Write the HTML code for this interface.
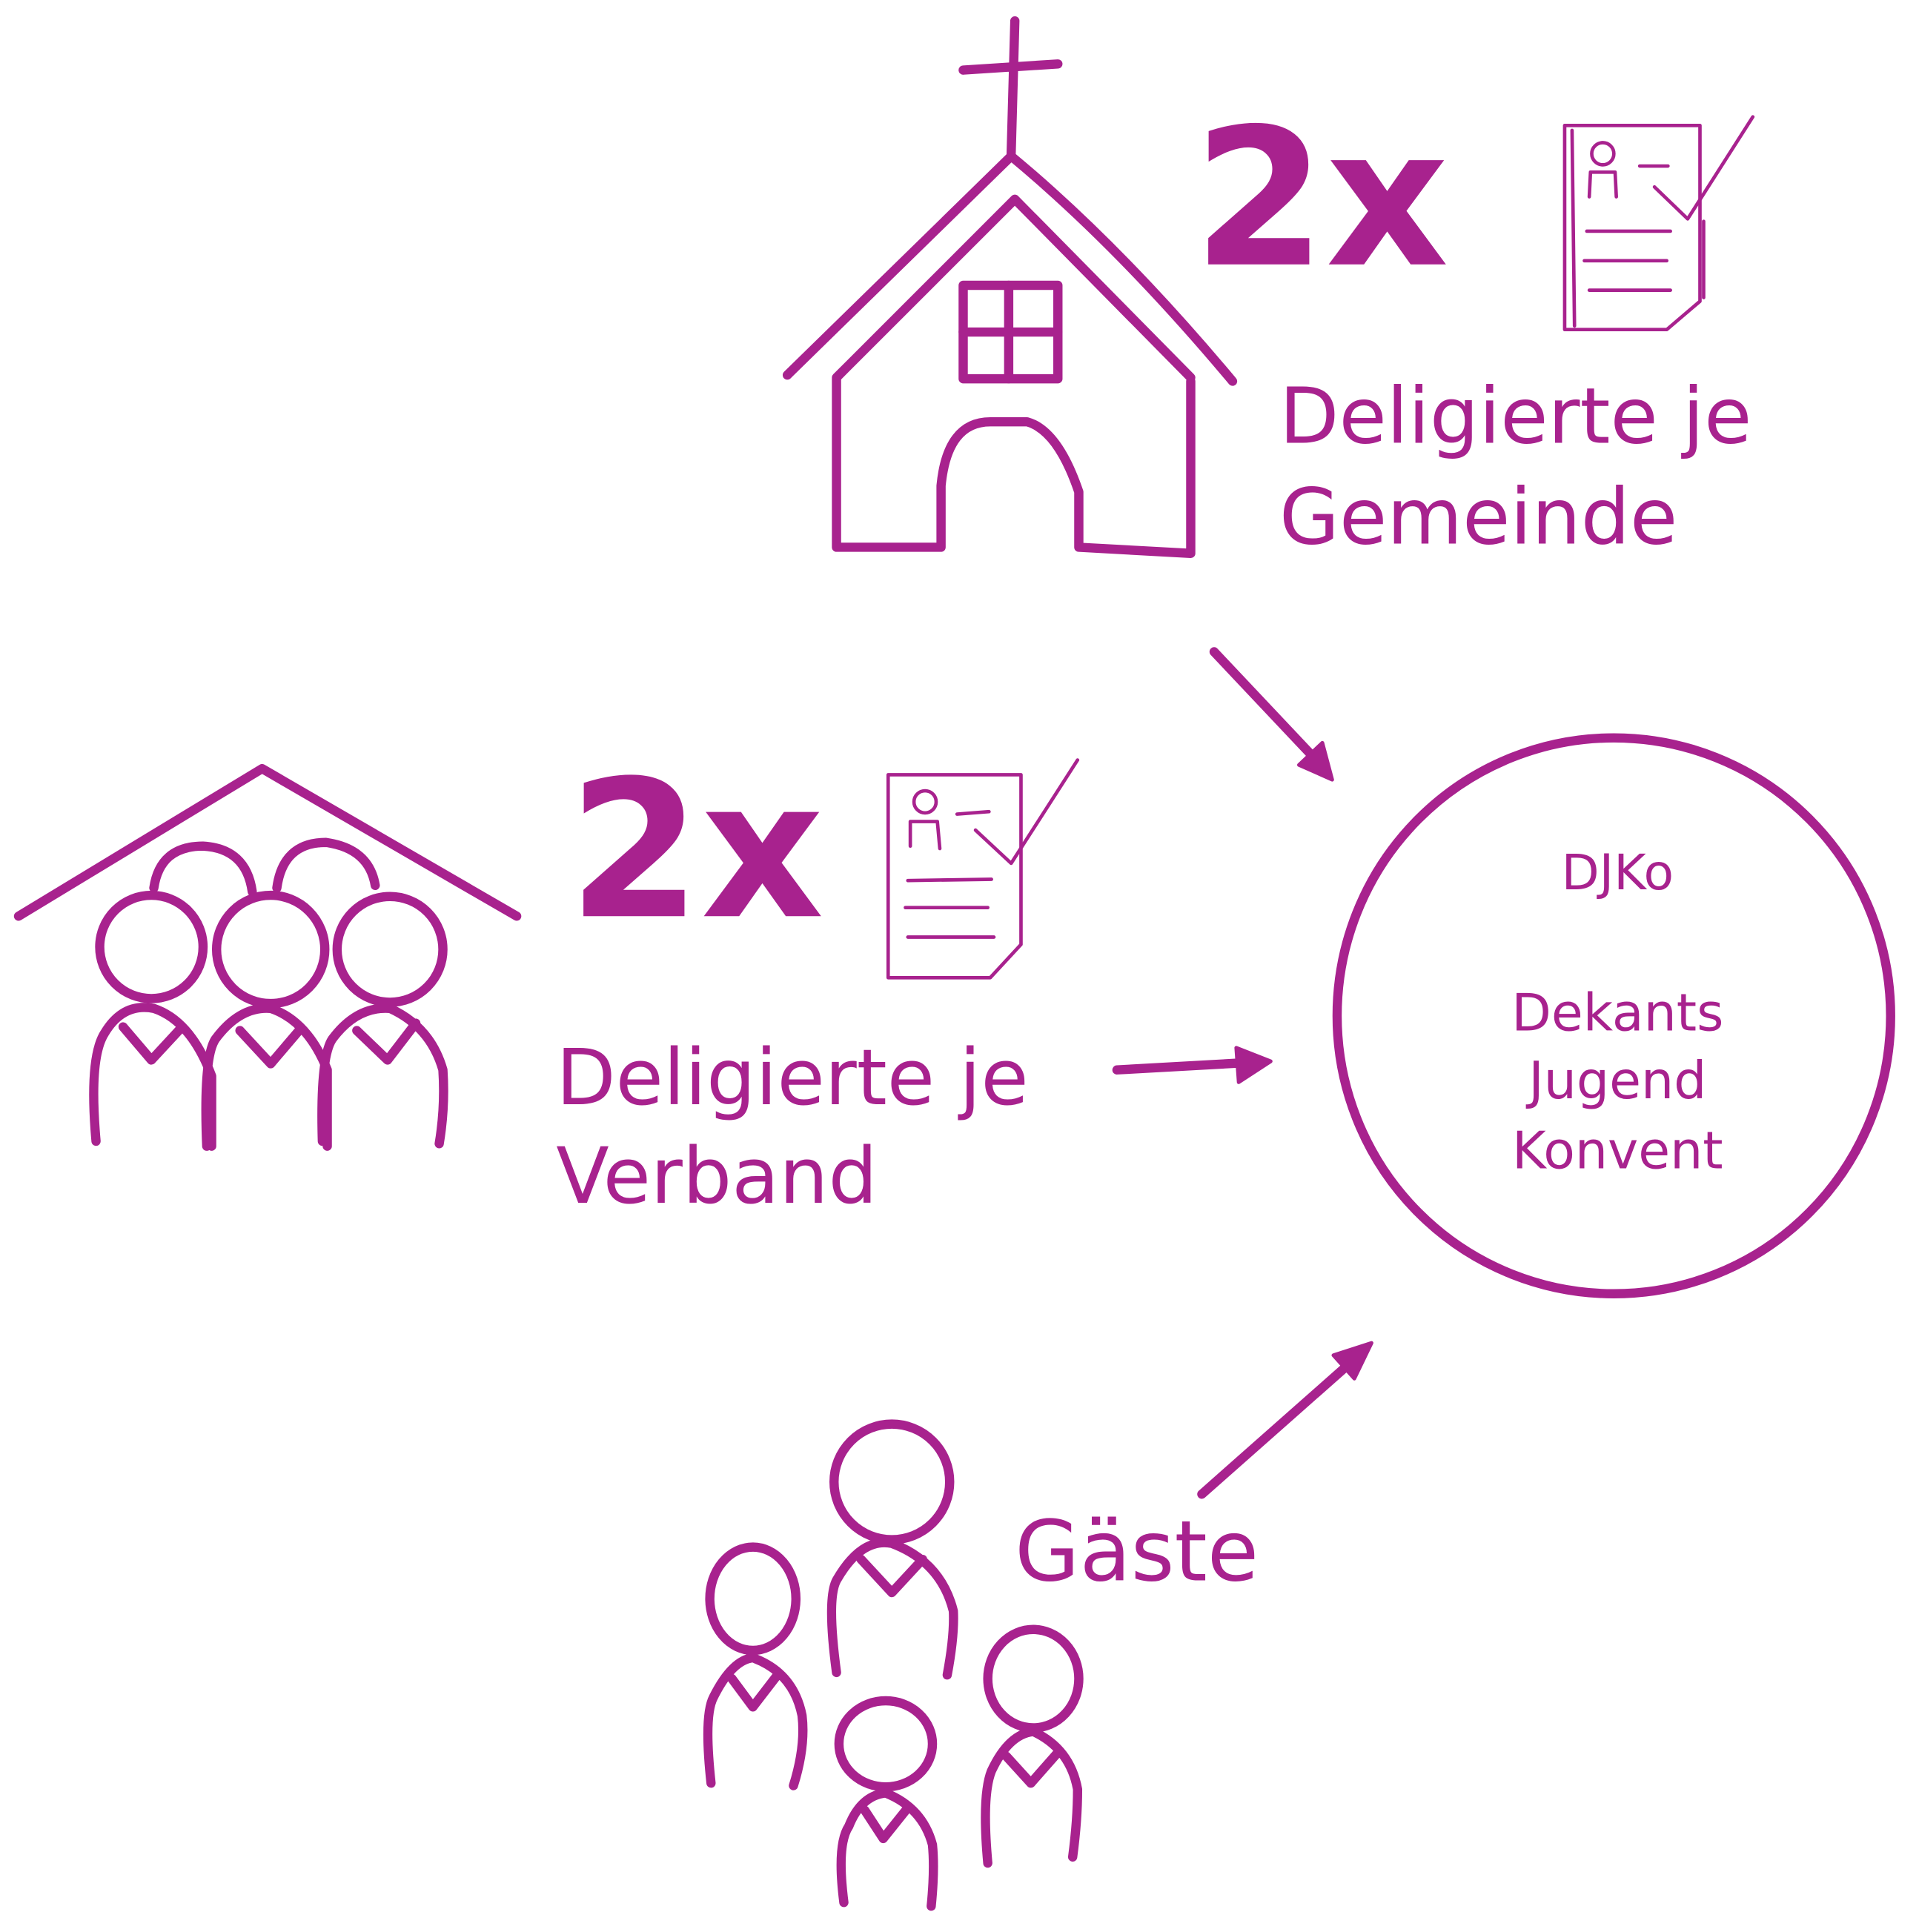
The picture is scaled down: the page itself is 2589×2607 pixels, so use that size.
<!DOCTYPE html>
<html><head><meta charset="utf-8"><style>
html,body{margin:0;padding:0;background:#fff}
svg{display:block}
text{font-family:"DejaVu Sans","Liberation Sans",sans-serif;fill:#a8228e}
</style></head><body>
<svg width="2589" height="2607" viewBox="0 0 1560 1571" xmlns="http://www.w3.org/2000/svg">
<g fill="none" stroke="#a8228e" stroke-width="7.5" stroke-linecap="round" stroke-linejoin="round">
<!-- church -->
<path d="M825 17 L822 125 M783 57 L860 52"/>
<path d="M640 305 L822 127 Q910 200 1002 310"/>
<path d="M680 307 L825 162 L968 307"/>
<path d="M680 308 L680 445 L765 445 L765 395 Q770 343 805 343 L835 343 Q860 350 877 400 L877 445 L968 450 L968 310"/>
<rect x="783" y="232" width="77" height="76"/>
<path d="M820 232 L820 308 M783 270 L860 270"/>
<!-- arrows -->
<path d="M987 530 L1070 618"/>
<path d="M908 870 L1015 864"/>
<path d="M977 1215 L1098 1108"/>
<!-- circle -->
<ellipse cx="1312" cy="826" rx="225" ry="226"/>
<!-- group roof -->
<path d="M15 745 L213 625 L420 745"/>
<path d="M125 722 Q130 688 165 688 Q200 690 205 725 M225 722 Q230 685 265 685 Q300 690 305 720"/>
<circle cx="123" cy="770" r="42"/>
<circle cx="220" cy="772" r="44"/>
<circle cx="317" cy="772" r="43"/>
<path d="M78 928 Q72 860 85 840 Q100 815 125 820 Q155 830 172 875 L172 932"/>
<path d="M100 835 L123 862 L148 835"/>
<path d="M168 932 Q165 860 175 845 Q195 818 220 820 Q250 830 266 870 L266 932"/>
<path d="M195 838 L220 865 L243 838"/>
<path d="M262 928 Q260 860 270 845 Q290 818 317 820 Q350 835 360 870 Q362 900 357 930"/>
<path d="M290 838 L315 862 L338 832"/>
<!-- guests -->
<circle cx="725" cy="1205" r="47"/>
<path d="M680 1360 Q672 1300 680 1285 Q700 1250 725 1255 Q765 1270 775 1310 Q776 1330 770 1362 M700 1268 L725 1295 L750 1268"/>
<ellipse cx="612" cy="1300" rx="35" ry="42"/>
<path d="M578 1450 Q572 1395 580 1380 Q595 1350 612 1348 Q645 1360 652 1395 Q655 1420 645 1452 M595 1365 L612 1388 L632 1362"/>
<ellipse cx="840" cy="1365" rx="37" ry="40"/>
<path d="M803 1515 Q798 1460 806 1440 Q820 1410 840 1408 Q870 1422 876 1455 Q876 1480 872 1510 M818 1428 L838 1450 L860 1425"/>
<ellipse cx="720" cy="1418" rx="38" ry="35"/>
<path d="M686 1547 Q680 1500 690 1485 Q700 1460 720 1458 Q750 1470 758 1500 Q760 1520 757 1550 M703 1472 L718 1495 L738 1470"/>
</g>
<g fill="#a8228e" stroke="#a8228e" stroke-width="3" stroke-linejoin="round">
<path d="M1083 634 L1056 622 L1075 604 Z"/>
<path d="M1033 863 L1005 852 L1007 880 Z"/>
<path d="M1115 1092 L1084 1102 L1101 1121 Z"/>
</g>
<g fill="none" stroke="#a8228e" stroke-width="2.8" stroke-linecap="round" stroke-linejoin="round">
<path d="M1272 102 L1382 102 L1382 245 L1355 268 L1272 268 Z M1278 106 L1280 265"/>
<circle cx="1303" cy="125" r="9"/>
<path d="M1292 160 L1293 140 L1313 140 L1314 160 M1333 135 L1356 135 M1290 188 L1358 188 M1288 212 L1355 212 M1292 236 L1358 236 M1345 152 L1372 178 L1425 95 M1385 180 L1385 242"/>
<path d="M722 630 L830 630 L830 768 L805 795 L722 795 Z"/>
<circle cx="752" cy="652" r="9"/>
<path d="M740 688 L740 668 L762 668 L764 690 M778 662 L804 660 M738 716 L806 715 M736 738 L803 738 M738 762 L808 762 M793 675 L822 702 L876 618"/>
</g>
<text x="970" y="215" font-size="155" font-weight="bold">2x</text>
<text x="462" y="745" font-size="155" font-weight="bold">2x</text>
<text x="1040" y="360" font-size="63">Deligierte je</text>
<text x="1040" y="442" font-size="63">Gemeinde</text>
<text x="452" y="898" font-size="63">Deligierte je</text>
<text x="452" y="978" font-size="63">Verband</text>
<text x="825" y="1285" font-size="68">Gäste</text>
<g text-anchor="middle">
<text x="1315" y="723" font-size="40">DJKo</text>
<text x="1315" y="838" font-size="42">Dekants</text>
<text x="1315" y="893" font-size="42">Jugend</text>
<text x="1315" y="950" font-size="42">Konvent</text>
</g>
</svg>
</body></html>
